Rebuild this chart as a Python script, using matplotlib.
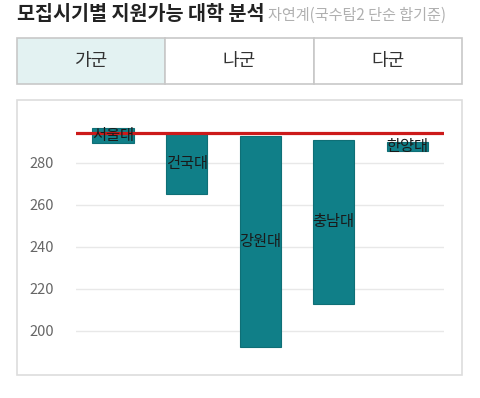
import matplotlib
matplotlib.use("Agg")
import matplotlib.pyplot as plt
from matplotlib.patches import Rectangle

plt.rcParams['font.family'] = ['Noto Sans CJK KR', 'DejaVu Sans']

# data
universities = ['서울대', '건국대', '강원대', '충남대', '한양대']
bar_low = [289.5, 265.0, 192.5, 213.0, 285.7]
bar_high = [296.5, 294.3, 293.0, 291.0, 290.2]
cutoff = 294.3
yticks = [200, 220, 240, 260, 280]
tabs = ['가군', '나군', '다군']

W, H = 480, 398
fig = plt.figure(figsize=(W / 100, H / 100), dpi=100)
fig.patch.set_facecolor('white')


def fx(px):
    return px / W


def fy(py):
    return 1 - py / H


# title
fig.text(fx(17), fy(14), '모집시기별 지원가능 대학 분석', fontsize=14.1, fontweight='bold',
         color='#222222', va='center', ha='left')
fig.text(fx(268), fy(15), '자연계(국수탐2 단순 합기준)', fontsize=10.9, color='#b0b0b0',
         va='center', ha='left')

# tabs
tab_edges = [17, 165, 313.7, 462]
for i, name in enumerate(tabs):
    x0, x1 = tab_edges[i], tab_edges[i + 1]
    face = '#e3f2f2' if i == 0 else 'white'
    fig.patches.append(Rectangle((fx(x0), fy(84)), fx(x1 - x0), (84 - 38) / H,
                                 transform=fig.transFigure, facecolor=face,
                                 edgecolor='#c8c8c8', linewidth=1.2, zorder=-2))
    fig.text(fx((x0 + x1) / 2), fy(61), name, fontsize=13, color='#333333',
             ha='center', va='center')

# chart card
fig.patches.append(Rectangle((fx(17), fy(375)), fx(462 - 17), (375 - 100) / H,
                             transform=fig.transFigure, facecolor='white',
                             edgecolor='#dddddd', linewidth=1.2, zorder=-2))

# axes: pixel y 105..365 -> values
top_px, bot_px = 105, 365
ax = fig.add_axes([fx(76.3), fy(bot_px), fx(444 - 76.3), (bot_px - top_px) / H])
ax.set_facecolor('none')
ax.set_ylim(280 - (bot_px - 163) / 2.1, 280 + (163 - top_px) / 2.1)
ax.set_xlim(-0.5, len(universities) - 0.5)

for s in ax.spines.values():
    s.set_visible(False)
ax.set_yticks(yticks)
ax.set_xticks([])
ax.tick_params(axis='y', length=0, pad=16, labelsize=10.5, labelcolor='#666666')
ax.yaxis.grid(True, color='#e8e8e8', linewidth=1)
ax.set_axisbelow(True)

x = range(len(universities))
heights = [h - l for l, h in zip(bar_low, bar_high)]
ax.bar(x, heights, bottom=bar_low, width=0.56, color='#107f88',
       edgecolor='#0f6f76', linewidth=0.8, zorder=2)

ax.axhline(cutoff, xmin=0, xmax=1, color='#cc1a1a', linewidth=2.3, zorder=3)

for i, name in enumerate(universities):
    ax.text(i, (bar_low[i] + bar_high[i]) / 2, name, ha='center', va='center',
            fontsize=11, color='#1a1a1a', zorder=4)

fig.savefig('out.png', dpi=100, facecolor='white')
